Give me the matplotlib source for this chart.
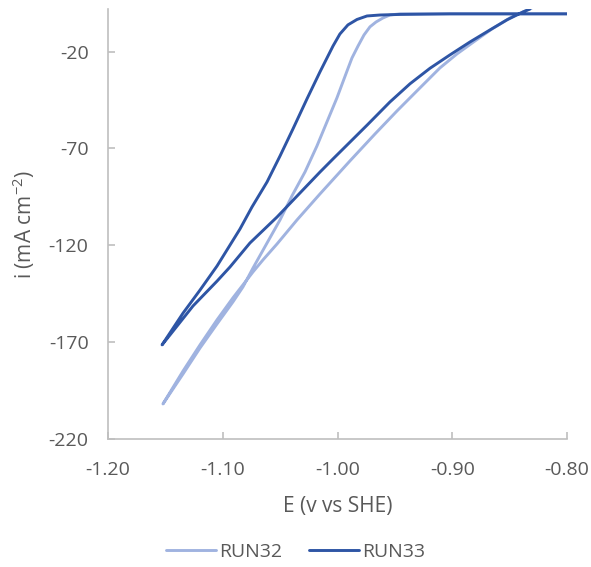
import matplotlib
matplotlib.use('Agg')
import matplotlib.pyplot as plt

# RUN32 - cathodic sweep (-0.80 -> -1.155) then return sweep
run32_e = [-0.800, -0.9455, -0.9543, -0.9603, -0.9664, -0.9717, -0.9769, -0.9821, -0.9874,
           -0.9917, -1.0005, -1.0092, -1.0179, -1.0283, -1.0397, -1.0501, -1.0614, -1.0736,
           -1.0824, -1.0911, -1.1050, -1.1198, -1.1346, -1.1521,
           -1.1442, -1.1346, -1.1198, -1.1050, -1.0911, -1.0736, -1.0649, -1.0527, -1.0353,
           -1.0153, -0.9891, -0.9673, -0.9481, -0.9281, -0.9107, -0.8959, -0.8802, -0.8654,
           -0.8497, -0.8305]
run32_i = [-0.5, -0.5, -1.1, -2.6, -4.7, -7.2, -11.4, -17.1, -23.3,
           -30.0, -43.9, -56.3, -68.7, -82.1, -94.5, -106.9, -118.8, -131.7,
           -141.5, -149.2, -160.6, -173.0, -186.4, -201.9,
           -194.2, -184.9, -171.4, -158.5, -147.1, -133.7, -127.5, -119.3, -106.9,
           -93.5, -76.4, -62.5, -50.6, -38.7, -28.4, -21.2, -14.5, -8.3,
           -2.6, 2.6]

# RUN33
run33_e = [-0.800, -0.9020, -0.9455, -0.9630, -0.9743, -0.9830, -0.9909, -0.9979, -1.0039,
           -1.0153, -1.0266, -1.0388, -1.0501, -1.0614, -1.0745, -1.0850, -1.1050, -1.1198,
           -1.1346, -1.1529,
           -1.1460, -1.1259, -1.1050, -1.0937, -1.0763, -1.0527, -1.0353, -1.0153, -1.0039,
           -0.9743, -0.9543, -0.9368, -0.9194, -0.9020, -0.8845, -0.8671, -0.8523, -0.8383,
           -0.8322]
run33_i = [-0.5, -0.5, -0.8, -1.1, -1.6, -3.4, -6.2, -10.9, -17.1,
           -30.5, -44.4, -59.9, -73.9, -87.3, -100.2, -111.6, -130.7, -143.1,
           -155.0, -171.4,
           -166.3, -151.3, -138.5, -131.2, -118.8, -105.4, -94.6, -82.2, -75.4,
           -58.0, -46.0, -36.6, -28.6, -21.7, -15.0, -8.8, -3.6, 0.5,
           2.0]

xticks = [-1.20, -1.10, -1.00, -0.90, -0.80]
yticks = [-220, -170, -120, -70, -20]

plt.rcParams['font.family'] = ['Open Sans', 'DejaVu Sans']
plt.rcParams['axes.unicode_minus'] = False
grey = '#595959'
axis_grey = '#BFBFBF'

fig = plt.figure(figsize=(5.91, 5.67), dpi=100)
ax = fig.add_axes([108 / 591, 1 - 439 / 567, 459 / 591, 430 / 567])

ax.plot(run32_e, run32_i, color='#A0B3E0', lw=2.1, label='RUN32', solid_capstyle='round')
ax.plot(run33_e, run33_i, color='#2E55A5', lw=2.1, label='RUN33', solid_capstyle='round')

ax.set_xlim(-1.20, -0.80)
ax.set_ylim(-220, 2)
ax.set_xticks(xticks)
ax.set_xticklabels(['%.2f' % v for v in xticks])
ax.set_yticks(yticks)

for side in ['top', 'right']:
    ax.spines[side].set_visible(False)
for side in ['left', 'bottom']:
    ax.spines[side].set_color(axis_grey)
    ax.spines[side].set_linewidth(1.2)

ax.tick_params(direction='in', length=5, width=1.2, color=axis_grey,
               labelcolor=grey, labelsize=14)
ax.tick_params(axis='x', pad=16)
ax.tick_params(axis='y', pad=14)

ax.set_xlabel('E (v vs SHE)', color=grey, fontsize=15)
ax.set_ylabel(r'i (mA cm$^{\mathregular{-2}}$)', color=grey, fontsize=15)
ax.xaxis.set_label_coords(0.5, -0.133)
ax.yaxis.set_label_coords(-0.155, 0.5)

fig.legend(loc='center', bbox_to_anchor=(0.5, 0.026), ncol=2, frameon=False,
           handlelength=2.6, columnspacing=1.35, handletextpad=0.15,
           fontsize=14, labelcolor=grey)

fig.savefig('out.png', dpi=100)
